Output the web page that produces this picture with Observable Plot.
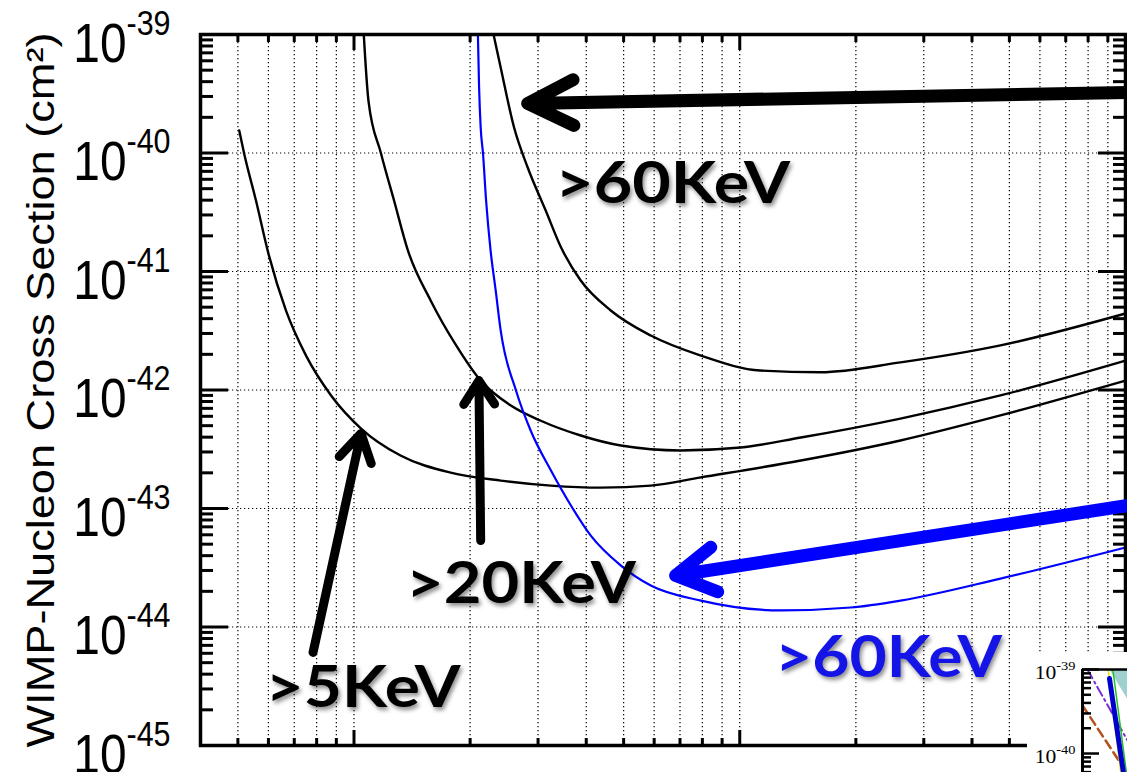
<!DOCTYPE html>
<html><head><meta charset="utf-8">
<script src="https://cdn.jsdelivr.net/npm/d3@7"></script>
<script src="https://cdn.jsdelivr.net/npm/@observablehq/plot@0.6"></script>
<style>
body{margin:0;background:#fff;}
#wrap{position:relative;width:1127px;height:772px;overflow:hidden;background:#fff;}
#wrap svg{position:absolute;display:block;}
</style></head><body><div id="wrap"></div>
<script>
// ---------------- data ----------------
// WIMP mass (GeV) and cross-section (cm^2) for each threshold curve
const massA = [5.04, 5.19, 5.57, 6.02, 6.66, 7.51, 8.72, 10.43, 13.2, 17.8, 24.0, 32.4, 43.6, 58.8, 79.3, 144, 261, 474, 1000];
const sigmaA = [1.55e-40, 9.9e-41, 3.97e-41, 1.36e-41, 4.69e-42, 1.95e-42, 9.0e-43, 4.73e-43, 2.8e-43, 2.01e-43, 1.72e-43, 1.56e-43, 1.50e-43, 1.56e-43, 1.83e-43, 2.54e-43, 3.75e-43, 6.1e-43, 1.2e-42];
const massB = [10.6, 10.9, 11.75, 12.7, 13.8, 15.8, 18.4, 21.3, 25.5, 30.5, 38.7, 49.2, 70.3, 100.6, 144, 261, 474, 1000];
const sigmaB = [1e-39, 2.77e-40, 9.9e-41, 3.97e-41, 1.5e-41, 5.7e-42, 2.38e-42, 1.2e-42, 7.4e-43, 5.5e-43, 4.13e-43, 3.4e-43, 3.09e-43, 3.27e-43, 3.97e-43, 5.74e-43, 9.0e-43, 1.77e-42];
const massC = [23.0, 24.0, 26.0, 28.2, 31.4, 34.4, 38.7, 46.3, 58.8, 79.3, 113, 162, 261, 474, 1000];
const sigmaC = [1e-39, 5.27e-40, 1.64e-40, 7.55e-41, 3.27e-41, 1.6e-41, 8.4e-42, 4.69e-42, 2.88e-42, 1.95e-42, 1.46e-42, 1.41e-42, 1.71e-42, 2.38e-42, 4.42e-42];
const massBlue = [20.95, 21.1, 21.3, 21.6, 22.0, 22.6, 23.3, 24.0, 26.3, 28.7, 32.4, 36.5, 41.1, 49.2, 58.8, 79.3, 128, 194, 261, 474, 1000];
const sigmaBlue = [1e-39, 3.57e-40, 1.64e-40, 9.9e-41, 3.97e-41, 1.5e-41, 6.9e-42, 3.18e-42, 9.9e-43, 4.55e-43, 2.09e-43, 1.06e-43, 5.9e-44, 3.3e-44, 2.24e-44, 1.67e-44, 1.38e-44, 1.46e-44, 1.67e-44, 2.56e-44, 4.69e-44];

// axis ticks
const xMinorTicks = [5, 6, 7, 8, 9, 20, 30, 40, 50, 60, 70, 80, 90, 200, 300, 400, 500, 600, 700, 800, 900];
const xMajorTicks = [10, 100];
const yDecades = [1e-45, 1e-44, 1e-43, 1e-42, 1e-41, 1e-40, 1e-39];
const yGridDecades = [1e-44, 1e-43, 1e-42, 1e-41, 1e-40];
const yMinorMultipliers = [2, 3, 4, 5, 6, 7, 8, 9];
const yTitle = "WIMP-Nucleon Cross Section (cm\u00B2)";

// annotations (label, mass, cross-section at text baseline)
const annoLabels = [">60KeV", ">20KeV", ">5KeV", ">60KeV"];
const annoMass = [67.0, 27.1, 10.55, 243];
const annoSigma = [3.75e-41, 1.58e-44, 2.13e-45, 3.82e-45];
const annoIsBlue = [false, false, false, true];

// arrows: tail -> tip
const arrowFromMass = [1012, 21.3, 7.83, 1012];
const arrowFromSigma = [3.24e-40, 5.37e-44, 6.1e-45, 1.06e-43];
const arrowToMass = [28.2, 21.08, 10.43, 68.2];
const arrowToSigma = [2.62e-40, 1.2e-42, 4.3e-43, 2.72e-44];

// inset (partial second chart in the corner)
const insetTicksMajor = [1e-40, 1e-39];
const insetBlueX = [6.2, 6.82], insetBlueY = [7.8e-40, 5.94e-41];
const insetYellowX = [6.14, 6.7], insetYellowY = [1e-39, 5.94e-41];
const insetGreenX = [6.35, 6.95], insetGreenY = [1e-39, 5.94e-41];
const insetPurpleX = [5.22, 7.0], insetPurpleY = [1e-39, 1.43e-40];
const insetBrownX = [5.0, 6.82], insetBrownY = [3.73e-40, 6.8e-41];
const insetTealX = [6.2, 7.0, 7.0, 6.2], insetTealY = [1e-39, 1e-39, 4.4e-40, 1e-39];

// ---------------- build ----------------
const rows = (xs, ys) => xs.map((x, i) => ({x, y: ys[i]}));
const yMinorTicks = yDecades.slice(0, -1).flatMap(d => yMinorMultipliers.map(m => m * d));
const annos = annoLabels.map((t, i) => ({t, x: annoMass[i], y: annoSigma[i], blue: annoIsBlue[i]}));
const arrows = arrowFromMass.map((m, i) => ({x1: m, y1: arrowFromSigma[i], x2: arrowToMass[i], y2: arrowToSigma[i]}));

const dotted = {stroke: "#000", strokeOpacity: 1, strokeWidth: 1.2, strokeDasharray: "1.2,2.8"};
const tickOpt = {strokeWidth: 3, fill: "none", label: null};

const main = Plot.plot({
  width: 1127, height: 772,
  marginLeft: 200, marginRight: 2, marginTop: 34, marginBottom: 27,
  x: {type: "log", domain: [4, 1000]},
  y: {type: "log", domain: [1e-45, 1e-39]},
  style: {fontFamily: "'Liberation Sans', Arial, sans-serif", background: "white", color: "black"},
  marks: [
    Plot.gridX([...xMinorTicks, ...xMajorTicks], dotted),
    Plot.gridY(yGridDecades, dotted),
    Plot.line(rows(massA, sigmaA), {x: "x", y: "y", stroke: "#000", strokeWidth: 2.4, curve: "monotone-x"}),
    Plot.line(rows(massB, sigmaB), {x: "x", y: "y", stroke: "#000", strokeWidth: 2.4, curve: "monotone-x"}),
    Plot.line(rows(massC, sigmaC), {x: "x", y: "y", stroke: "#000", strokeWidth: 2.4, curve: "monotone-x"}),
    Plot.line(rows(massBlue, sigmaBlue), {x: "x", y: "y", stroke: "#0000ff", strokeWidth: 2.2, curve: "monotone-x"}),
    Plot.axisX(xMinorTicks, {anchor: "bottom", tickSize: -7, ...tickOpt}),
    Plot.axisX(xMajorTicks, {anchor: "bottom", tickSize: -15, ...tickOpt}),
    Plot.axisX(xMinorTicks, {anchor: "top", tickSize: -7, ...tickOpt}),
    Plot.axisX(xMajorTicks, {anchor: "top", tickSize: -15, ...tickOpt}),
    Plot.axisY(yMinorTicks, {anchor: "left", tickSize: -13, ...tickOpt}),
    Plot.axisY(yDecades, {anchor: "left", tickSize: -28, ...tickOpt}),
    Plot.axisY(yMinorTicks, {anchor: "right", tickSize: -13, ...tickOpt}),
    Plot.axisY(yDecades, {anchor: "right", tickSize: -28, ...tickOpt}),
    Plot.axisY(yDecades, {anchor: "left", tickSize: 0, tickPadding: 30, fontSize: 55, label: null,
      tickFormat: d => "10" + String(Math.round(Math.log10(d)))}),
    Plot.text([yTitle], {frameAnchor: "left", rotate: -90, dx: -147, lineAnchor: "bottom", textAnchor: "middle", fontSize: 39, fill: "#000"}),
    Plot.frame({stroke: "#000", strokeWidth: 3.5}),
    Plot.arrow([arrows[0]], {x1: "x1", y1: "y1", x2: "x2", y2: "y2", stroke: "#000", strokeWidth: 13, headLength: 5.9, headAngle: 53, strokeLinecap: "round", strokeLinejoin: "round"}),
    Plot.arrow([arrows[1]], {x1: "x1", y1: "y1", x2: "x2", y2: "y2", stroke: "#000", strokeWidth: 9, headLength: 4.7, headAngle: 66, strokeLinecap: "round", strokeLinejoin: "round"}),
    Plot.arrow([arrows[2]], {x1: "x1", y1: "y1", x2: "x2", y2: "y2", stroke: "#000", strokeWidth: 9, headLength: 5.3, headAngle: 62, strokeLinecap: "round", strokeLinejoin: "round"}),
    Plot.arrow([arrows[3]], {x1: "x1", y1: "y1", x2: "x2", y2: "y2", stroke: "#0000ff", strokeWidth: 13, headLength: 5.2, headAngle: 60, strokeLinecap: "round", strokeLinejoin: "round"}),
    Plot.text(annos.filter(d => !d.blue), {x: "x", y: "y", text: "t", fill: "#000", fontFamily: "Lato, 'Open Sans', sans-serif", fontWeight: "bold", fontSize: 57, lineAnchor: "bottom", textAnchor: "middle"}),
    Plot.text(annos.filter(d => d.blue), {x: "x", y: "y", text: "t", fill: "#1414e6", fontFamily: "Lato, 'Open Sans', sans-serif", fontWeight: "bold", fontSize: 57, lineAnchor: "bottom", textAnchor: "middle"})
  ]
});

const inset = Plot.plot({
  width: 100, height: 120,
  marginLeft: 55, marginRight: 0, marginTop: 17, marginBottom: 0,
  x: {domain: [5, 7], axis: null},
  y: {type: "log", domain: [Math.pow(10, -40.226), 1e-39]},
  style: {fontFamily: "'Liberation Serif', 'Times New Roman', serif", background: "white", color: "black", overflow: "hidden"},
  marks: [
    Plot.line(rows(insetTealX, insetTealY), {x: "x", y: "y", fill: "#9fd0d0", stroke: "none"}),
    Plot.line(rows(insetBrownX, insetBrownY), {x: "x", y: "y", stroke: "#b4501e", strokeWidth: 2.5, strokeDasharray: "9,5"}),
    Plot.line(rows(insetPurpleX, insetPurpleY), {x: "x", y: "y", stroke: "#7a2bd6", strokeWidth: 2, strokeDasharray: "10,4,2,4"}),
    Plot.line(rows(insetYellowX, insetYellowY), {x: "x", y: "y", stroke: "#e0e000", strokeWidth: 1.5}),
    Plot.line(rows(insetGreenX, insetGreenY), {x: "x", y: "y", stroke: "#20c020", strokeWidth: 1.5}),
    Plot.line(rows(insetBlueX, insetBlueY), {x: "x", y: "y", stroke: "#0000cc", strokeWidth: 5}),
    Plot.axisY(yMinorTicks, {anchor: "left", tickSize: -9, strokeWidth: 2.5, fill: "none", label: null}),
    Plot.axisY(insetTicksMajor, {anchor: "left", tickSize: -17, strokeWidth: 2.5, fill: "none", label: null}),
    Plot.axisY(insetTicksMajor, {anchor: "left", tickSize: 0, tickPadding: 7, fontSize: 18, label: null,
      tickFormat: d => "10" + String(Math.round(Math.log10(d)))}),
    Plot.ruleX([5], {stroke: "#000", strokeWidth: 3}),
    Plot.ruleY([1e-39], {stroke: "#000", strokeWidth: 2.5})
  ]
});

const wrap = document.getElementById("wrap");
main.style.left = "0px"; main.style.top = "0px";
inset.style.left = "1027px"; inset.style.top = "652px";
wrap.appendChild(main);
wrap.appendChild(inset);

// superscript exponents on log tick labels (horizontal squeeze via transform)
function superscript(svg, base, supSize, sx) {
  d3.select(svg).selectAll("text").each(function () {
    const m = /^10([-\u2212]\d+)$/.exec(this.textContent);
    if (!m) return;
    const sel = d3.select(this);
    sel.text(null).attr("y", base);
    sel.append("tspan").text("10");
    sel.append("tspan").attr("dy", -base).attr("font-size", supSize).text(m[1].replace("\u2212", "-"));
    const tr = this.getAttribute("transform");
    if (tr) sel.attr("transform", tr + ` scale(${sx},1)`);
    else {
      const x = +this.getAttribute("x") || 0;
      sel.attr("transform", `translate(${x},0) scale(${sx},1) translate(${-x},0)`);
    }
  });
}
superscript(main, 27, 35, 0.87);
superscript(inset, 9, 12, 1.2);

// condensed text look
const annoWidths = [235, 230, 195, 227];
let k = 0;
d3.select(main).selectAll("text").each(function () {
  const t = this.textContent;
  if (t.startsWith("WIMP")) {
    d3.select(this).attr("textLength", 715).attr("lengthAdjust", "spacingAndGlyphs");
  } else if (/^>\d+KeV$/.test(t)) {
    d3.select(this).attr("textLength", annoWidths[k++]).attr("lengthAdjust", "spacingAndGlyphs")
      .style("filter", "drop-shadow(2px 3px 2px rgba(0,0,0,0.45))");
  }
});
</script></body></html>
